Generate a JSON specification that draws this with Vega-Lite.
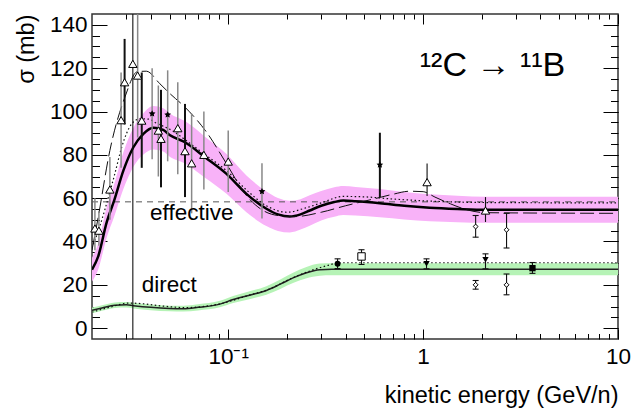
{
  "$schema": "https://vega.github.io/schema/vega-lite/v6.json",
  "width": 526,
  "height": 325,
  "autosize": {"type": "none"},
  "padding": {"left": 92, "top": 14, "right": 15, "bottom": 71},
  "background": "#ffffff",
  "config": {
    "view": {"stroke": "#333", "strokeWidth": 1.5},
    "font": "Liberation Sans",
    "axis": {"grid": false, "domain": false, "labelColor": "#000", "titleColor": "#000", "labelFont": "Liberation Sans", "titleFont": "Liberation Sans", "tickColor": "#000"}
  },
  "datasets": {
    "eff": [
      {"E": 0.020, "v": 27, "lo": 21.5, "hi": 32.5},
      {"E": 0.0215, "v": 33, "lo": 27, "hi": 39},
      {"E": 0.0238, "v": 48.9, "lo": 41.9, "hi": 55.9},
      {"E": 0.026, "v": 59, "lo": 51.5, "hi": 66.5},
      {"E": 0.029, "v": 72.8, "lo": 64.3, "hi": 81.3},
      {"E": 0.0326, "v": 83.5, "lo": 74.5, "hi": 92.5},
      {"E": 0.0367, "v": 89.7, "lo": 80.2, "hi": 99.2},
      {"E": 0.0413, "v": 92.5, "lo": 82.5, "hi": 102.5},
      {"E": 0.0464, "v": 91.5, "lo": 81.5, "hi": 101.5},
      {"E": 0.0503, "v": 89, "lo": 79, "hi": 99},
      {"E": 0.06, "v": 85.8, "lo": 76, "hi": 95.6},
      {"E": 0.076, "v": 78.9, "lo": 69.4, "hi": 88.4},
      {"E": 0.098, "v": 71.2, "lo": 62, "hi": 80.4},
      {"E": 0.124, "v": 62, "lo": 53.5, "hi": 70.5},
      {"E": 0.157, "v": 55.1, "lo": 47.1, "hi": 63.1},
      {"E": 0.18, "v": 52.5, "lo": 44.9, "hi": 60.1},
      {"E": 0.207, "v": 51.5, "lo": 44.2, "hi": 58.8},
      {"E": 0.235, "v": 52.5, "lo": 45.5, "hi": 59.5},
      {"E": 0.262, "v": 54.3, "lo": 47.3, "hi": 61.3},
      {"E": 0.3, "v": 56.5, "lo": 49.7, "hi": 63.3},
      {"E": 0.35, "v": 58.2, "lo": 51.4, "hi": 65},
      {"E": 0.389, "v": 58.9, "lo": 52.2, "hi": 65.6},
      {"E": 0.45, "v": 58.6, "lo": 52, "hi": 65.2},
      {"E": 0.6, "v": 57.7, "lo": 51.2, "hi": 64.2},
      {"E": 0.8, "v": 56.5, "lo": 50.2, "hi": 62.8},
      {"E": 1.08, "v": 55.6, "lo": 49.4, "hi": 61.8},
      {"E": 1.5, "v": 55, "lo": 48.9, "hi": 61.1},
      {"E": 2.11, "v": 54.6, "lo": 48.6, "hi": 60.6},
      {"E": 10, "v": 54.6, "lo": 48.6, "hi": 60.6}
    ],
    "effLD": [
      {"E": 0.020, "v": 36}, {"E": 0.0215, "v": 51}, {"E": 0.0247, "v": 82}, {"E": 0.0295, "v": 106.6},
      {"E": 0.0342, "v": 118.4}, {"E": 0.038, "v": 118.6}, {"E": 0.0446, "v": 112.8}, {"E": 0.0503, "v": 108.2},
      {"E": 0.06, "v": 102}, {"E": 0.0775, "v": 90.4}, {"E": 0.098, "v": 75.9}, {"E": 0.122, "v": 62},
      {"E": 0.151, "v": 54.3}, {"E": 0.18, "v": 52}, {"E": 0.22, "v": 51.5}, {"E": 0.3, "v": 53.5},
      {"E": 0.4, "v": 56.5}, {"E": 0.55, "v": 59.5}, {"E": 0.7, "v": 61.8}, {"E": 0.85, "v": 63.2},
      {"E": 1.0, "v": 63}, {"E": 1.15, "v": 60.5}, {"E": 1.38, "v": 57.4}, {"E": 1.7, "v": 54.5},
      {"E": 2.1, "v": 53.3}, {"E": 10, "v": 53}
    ],
    "effDot": [
      {"E": 0.020, "v": 37}, {"E": 0.0207, "v": 40.5}, {"E": 0.0262, "v": 71.3}, {"E": 0.0284, "v": 83.5},
      {"E": 0.032, "v": 94.3}, {"E": 0.0353, "v": 96.6}, {"E": 0.0389, "v": 96.5}, {"E": 0.0429, "v": 94.6},
      {"E": 0.052, "v": 91}, {"E": 0.06, "v": 87}, {"E": 0.075, "v": 80.5}, {"E": 0.1, "v": 72},
      {"E": 0.125, "v": 63.5}, {"E": 0.157, "v": 56.5}, {"E": 0.2, "v": 53.5}, {"E": 0.25, "v": 55.5},
      {"E": 0.3, "v": 57.8}, {"E": 0.389, "v": 60.8}, {"E": 0.5, "v": 60.6}, {"E": 0.7, "v": 59.6},
      {"E": 1, "v": 58.8}, {"E": 1.5, "v": 58.2}, {"E": 2, "v": 58}, {"E": 10, "v": 57.8}
    ],
    "dir": [
      {"E": 0.02, "v": 8.2, "lo": 6.9, "hi": 9.5},
      {"E": 0.0225, "v": 9.3, "lo": 8, "hi": 10.6},
      {"E": 0.0262, "v": 10.6, "lo": 9.3, "hi": 11.9},
      {"E": 0.03, "v": 10.8, "lo": 9.5, "hi": 12.1},
      {"E": 0.0326, "v": 10.4, "lo": 9.1, "hi": 11.7},
      {"E": 0.04, "v": 9.6, "lo": 8.3, "hi": 10.9},
      {"E": 0.05, "v": 9.1, "lo": 7.8, "hi": 10.4},
      {"E": 0.0588, "v": 9, "lo": 7.7, "hi": 10.3},
      {"E": 0.07, "v": 9.6, "lo": 8.2, "hi": 11},
      {"E": 0.0906, "v": 11.1, "lo": 9.6, "hi": 12.6},
      {"E": 0.106, "v": 13.2, "lo": 11.6, "hi": 14.8},
      {"E": 0.13, "v": 15.3, "lo": 13.5, "hi": 17.1},
      {"E": 0.157, "v": 17.4, "lo": 15.4, "hi": 19.4},
      {"E": 0.185, "v": 20.3, "lo": 18.1, "hi": 22.5},
      {"E": 0.215, "v": 23.2, "lo": 20.8, "hi": 25.6},
      {"E": 0.25, "v": 25.5, "lo": 22.9, "hi": 28.1},
      {"E": 0.295, "v": 27, "lo": 24.2, "hi": 29.8},
      {"E": 0.34, "v": 27.2, "lo": 24.4, "hi": 30},
      {"E": 10, "v": 27.2, "lo": 24.4, "hi": 30}
    ],
    "dirDot": [
      {"E": 0.02, "v": 7.4}, {"E": 0.025, "v": 9.8}, {"E": 0.031, "v": 11.6}, {"E": 0.036, "v": 11.3},
      {"E": 0.045, "v": 10.3}, {"E": 0.06, "v": 9.5}, {"E": 0.0906, "v": 11.2}, {"E": 0.13, "v": 15.4},
      {"E": 0.157, "v": 17.5}, {"E": 0.215, "v": 23.3}, {"E": 0.27, "v": 26.8}, {"E": 0.32, "v": 28.8},
      {"E": 0.36, "v": 30}, {"E": 0.4, "v": 30.2}, {"E": 10, "v": 30.2}
    ],
    "hline": [{"E": 0.02, "v": 58.3}, {"E": 10, "v": 58.3}],
    "pts": [
      {"E": 0.0207, "v": 46, "lo": 36, "hi": 60, "s": "tri", "b": "g", "c": false},
      {"E": 0.0217, "v": 45, "lo": 38, "hi": 54, "s": "tri", "b": "g", "c": false},
      {"E": 0.0247, "v": 64, "lo": 50, "hi": 79, "s": "tri", "b": "g", "c": false},
      {"E": 0.0282, "v": 96, "lo": 74, "hi": 118, "s": "tri", "b": "g", "c": false},
      {"E": 0.0294, "v": 113.5, "lo": 94, "hi": 133.5, "s": "tri", "b": "k", "c": false},
      {"E": 0.0324, "v": 122, "lo": -100, "hi": 300, "s": "tri", "b": "t", "c": false},
      {"E": 0.0343, "v": 116.6, "lo": 88, "hi": 145, "s": "tri", "b": "g", "c": false},
      {"E": 0.036, "v": 95.8, "lo": 74, "hi": 118, "s": "tri", "b": "k", "c": false},
      {"E": 0.0407, "v": 99, "lo": 78, "hi": 120, "s": "star", "b": "g", "c": false},
      {"E": 0.0438, "v": 91.2, "lo": 70, "hi": 112, "s": "tri", "b": "g", "c": false},
      {"E": 0.0452, "v": 87.4, "lo": 65, "hi": 110, "s": "tri", "b": "k", "c": false},
      {"E": 0.0489, "v": 98.5, "lo": 77, "hi": 119, "s": "star", "b": "g", "c": false},
      {"E": 0.0551, "v": 92.3, "lo": 71, "hi": 113.5, "s": "tri", "b": "g", "c": false},
      {"E": 0.06, "v": 81.7, "lo": 60.5, "hi": 103.5, "s": "tri", "b": "k", "c": false},
      {"E": 0.0649, "v": 76.1, "lo": 53, "hi": 99, "s": "tri", "b": "g", "c": false},
      {"E": 0.075, "v": 80, "lo": 64, "hi": 100, "s": "tri", "b": "g", "c": false},
      {"E": 0.1, "v": 76.9, "lo": 62.8, "hi": 91.2, "s": "tri", "b": "g", "c": false},
      {"E": 0.149, "v": 63.1, "lo": 50.6, "hi": 76.1, "s": "star", "b": "g", "c": false},
      {"E": 0.6, "v": 75.4, "lo": 60.5, "hi": 90.2, "s": "star", "b": "k", "c": false},
      {"E": 1.048, "v": 67.4, "lo": 61, "hi": 76, "s": "tri", "b": "t", "c": false},
      {"E": 2.09, "v": 54.3, "lo": 49, "hi": 60.5, "s": "tri", "b": "t", "c": false},
      {"E": 1.86, "v": 46.9, "lo": 42, "hi": 52, "s": "dia", "b": "t", "c": true},
      {"E": 2.68, "v": 45.4, "lo": 37, "hi": 53, "s": "dia", "b": "t", "c": true},
      {"E": 0.364, "v": 29.7, "lo": 27.5, "hi": 32, "s": "circ", "b": "t", "c": true},
      {"E": 0.483, "v": 33.1, "lo": 29.4, "hi": 36.2, "s": "osq", "b": "t", "c": true},
      {"E": 1.041, "v": 29.7, "lo": 27.4, "hi": 32, "s": "dtri", "b": "t", "c": true},
      {"E": 2.09, "v": 31.6, "lo": 27.4, "hi": 34.3, "s": "dtri", "b": "t", "c": true},
      {"E": 3.64, "v": 27.7, "lo": 25.3, "hi": 30.3, "s": "fsq", "b": "t", "c": true},
      {"E": 1.86, "v": 20, "lo": 18, "hi": 22, "s": "dia", "b": "t", "c": true},
      {"E": 2.68, "v": 20, "lo": 15.4, "hi": 25, "s": "dia", "b": "t", "c": true}
    ],
    "lab": [
      {"E": 0.0397, "v": 49.7, "t": "effective"},
      {"E": 0.036, "v": 16.6, "t": "direct"}
    ],
    "ann": [{"E": 2.27, "v": 116.6, "t": "¹²C → ¹¹B"}]
  },
  "encoding": {
    "x": {"field": "E", "type": "quantitative", "scale": {"type": "log", "domain": [0.02, 10], "nice": false}, "axis": null},
    "y": {"field": "v", "type": "quantitative", "scale": {"domain": [-5, 145], "nice": false, "zero": false}, "axis": null}
  },
  "resolve": {"axis": {"x": "independent", "y": "independent"}},
  "layer": [
    {
      "data": {"name": "eff"},
      "mark": {"type": "area", "color": "#f8b2f8", "opacity": 1, "interpolate": "monotone", "clip": true},
      "encoding": {
        "x": {"field": "E", "type": "quantitative", "scale": {"type": "log", "domain": [0.02, 10], "nice": false},
          "axis": {"orient": "bottom", "values": [0.1, 1, 10], "ticks": false, "domain": false, "labelFlush": false, "labelOverlap": false,
            "labelExpr": "datum.value < 0.5 ? '10⁻¹' : (datum.value < 5 ? '1' : '10')",
            "labelFontSize": 22.5, "labelPadding": 6, "title": "kinetic energy (GeV/n)", "titleAnchor": "end",
            "titleFontSize": 23.5, "titleFontWeight": "normal", "titlePadding": 16}},
        "y": {"field": "lo", "type": "quantitative", "scale": {"domain": [-5, 145], "nice": false, "zero": false},
          "axis": {"orient": "left", "values": [0, 20, 40, 60, 80, 100, 120, 140], "ticks": false, "domain": false, "labelFlush": false,
            "labelFontSize": 22.5, "labelPadding": 5, "title": "σ (mb)", "titleAnchor": "end", "titleFontSize": 23.5,
            "titleFontWeight": "normal", "titlePadding": 11}},
        "y2": {"field": "hi"}
      }
    },
    {
      "data": {"name": "dir"},
      "mark": {"type": "area", "color": "#b6f3b6", "opacity": 1, "interpolate": "monotone", "clip": true},
      "encoding": {
        "x": {"field": "E", "type": "quantitative", "scale": {"type": "log", "domain": [0.02, 10], "nice": false},
          "axis": {"orient": "bottom", "values": [0.1, 1, 10], "labels": false, "domain": false, "ticks": true, "tickSize": -10, "tickWidth": 1, "title": null}},
        "y": {"field": "lo", "type": "quantitative", "scale": {"domain": [-5, 145], "nice": false, "zero": false},
          "axis": {"orient": "left", "values": [0, 20, 40, 60, 80, 100, 120, 140], "labels": false, "domain": false, "ticks": true, "tickSize": -15, "tickWidth": 1, "title": null}},
        "y2": {"field": "hi"}
      }
    },
    {
      "data": {"name": "hline"},
      "mark": {"type": "line", "color": "#555", "strokeWidth": 1, "strokeDash": [6, 5], "clip": true},
      "encoding": {
        "x": {"field": "E", "type": "quantitative", "scale": {"type": "log", "domain": [0.02, 10], "nice": false},
          "axis": {"orient": "bottom", "values": [0.03, 0.04, 0.05, 0.06, 0.07, 0.08, 0.09, 0.2, 0.3, 0.4, 0.5, 0.6, 0.7, 0.8, 0.9, 2, 3, 4, 5, 6, 7, 8, 9], "labels": false, "domain": false, "ticks": true, "tickSize": -5.5, "tickWidth": 1, "title": null}},
        "y": {"field": "v", "type": "quantitative", "scale": {"domain": [-5, 145], "nice": false, "zero": false},
          "axis": {"orient": "left", "values": [0, 5, 10, 15, 20, 25, 30, 35, 40, 45, 50, 55, 60, 65, 70, 75, 80, 85, 90, 95, 100, 105, 110, 115, 120, 125, 130, 135, 140], "labels": false, "domain": false, "ticks": true, "tickSize": -7.5, "tickWidth": 1, "title": null}}
      }
    },
    {
      "data": {"name": "eff"},
      "mark": {"type": "line", "color": "#000", "strokeWidth": 2.5, "interpolate": "monotone", "clip": true},
      "encoding": {
        "x": {"field": "E", "type": "quantitative", "scale": {"type": "log", "domain": [0.02, 10], "nice": false},
          "axis": {"orient": "top", "values": [0.1, 1, 10], "labels": false, "domain": false, "ticks": true, "tickSize": -10, "tickWidth": 1, "title": null}},
        "y": {"field": "v", "type": "quantitative", "scale": {"domain": [-5, 145], "nice": false, "zero": false},
          "axis": {"orient": "right", "values": [0, 20, 40, 60, 80, 100, 120, 140], "labels": false, "domain": false, "ticks": true, "tickSize": -15, "tickWidth": 1, "title": null}}
      }
    },
    {
      "data": {"name": "dir"},
      "mark": {"type": "line", "color": "#222", "strokeWidth": 1.5, "interpolate": "monotone", "clip": true},
      "encoding": {
        "x": {"field": "E", "type": "quantitative", "scale": {"type": "log", "domain": [0.02, 10], "nice": false},
          "axis": {"orient": "top", "values": [0.03, 0.04, 0.05, 0.06, 0.07, 0.08, 0.09, 0.2, 0.3, 0.4, 0.5, 0.6, 0.7, 0.8, 0.9, 2, 3, 4, 5, 6, 7, 8, 9], "labels": false, "domain": false, "ticks": true, "tickSize": -5, "tickWidth": 1, "title": null}},
        "y": {"field": "v", "type": "quantitative", "scale": {"domain": [-5, 145], "nice": false, "zero": false},
          "axis": {"orient": "right", "values": [0, 5, 10, 15, 20, 25, 30, 35, 40, 45, 50, 55, 60, 65, 70, 75, 80, 85, 90, 95, 100, 105, 110, 115, 120, 125, 130, 135, 140], "labels": false, "domain": false, "ticks": true, "tickSize": -7.5, "tickWidth": 1, "title": null}}
      }
    },
    {
      "data": {"name": "effLD"},
      "mark": {"type": "line", "color": "#111", "strokeWidth": 1, "strokeDash": [14, 5], "interpolate": "monotone", "clip": true}
    },
    {
      "data": {"name": "effDot"},
      "mark": {"type": "line", "color": "#111", "strokeWidth": 1.2, "strokeDash": [1.5, 2.5], "interpolate": "monotone", "clip": true}
    },
    {
      "data": {"name": "dirDot"},
      "mark": {"type": "line", "color": "#111", "strokeWidth": 1.2, "strokeDash": [1.5, 2.5], "interpolate": "monotone", "clip": true}
    },
    {
      "data": {"name": "pts"},
      "transform": [{"filter": "datum.b == 'g'"}],
      "mark": {"type": "rule", "color": "#888", "strokeWidth": 1.5, "clip": true},
      "encoding": {
        "y": {"field": "lo", "type": "quantitative", "scale": {"domain": [-5, 145], "nice": false, "zero": false}, "axis": null},
        "y2": {"field": "hi"}
      }
    },
    {
      "data": {"name": "pts"},
      "transform": [{"filter": "datum.b == 'k'"}],
      "mark": {"type": "rule", "color": "#111", "strokeWidth": 2, "clip": true},
      "encoding": {
        "y": {"field": "lo", "type": "quantitative", "scale": {"domain": [-5, 145], "nice": false, "zero": false}, "axis": null},
        "y2": {"field": "hi"}
      }
    },
    {
      "data": {"name": "pts"},
      "transform": [{"filter": "datum.b == 't'"}],
      "mark": {"type": "rule", "color": "#111", "strokeWidth": 1.1, "clip": true},
      "encoding": {
        "y": {"field": "lo", "type": "quantitative", "scale": {"domain": [-5, 145], "nice": false, "zero": false}, "axis": null},
        "y2": {"field": "hi"}
      }
    },
    {
      "data": {"name": "pts"},
      "transform": [{"filter": "datum.c"}],
      "mark": {"type": "tick", "orient": "horizontal", "size": 6, "thickness": 1.1, "color": "#111", "opacity": 1},
      "encoding": {
        "y": {"field": "lo", "type": "quantitative", "scale": {"domain": [-5, 145], "nice": false, "zero": false}, "axis": null}
      }
    },
    {
      "data": {"name": "pts"},
      "transform": [{"filter": "datum.c"}],
      "mark": {"type": "tick", "orient": "horizontal", "size": 6, "thickness": 1.1, "color": "#111", "opacity": 1},
      "encoding": {
        "y": {"field": "hi", "type": "quantitative", "scale": {"domain": [-5, 145], "nice": false, "zero": false}, "axis": null}
      }
    },
    {
      "data": {"name": "pts"},
      "transform": [{"filter": "datum.s == 'tri'"}],
      "mark": {"type": "point", "shape": "triangle-up", "size": 70, "filled": true, "fill": "#fff", "stroke": "#000", "strokeWidth": 1, "opacity": 1}
    },
    {
      "data": {"name": "pts"},
      "transform": [{"filter": "datum.s == 'star'"}],
      "mark": {"type": "point", "shape": "M0,-1L0.29,-0.4L0.95,-0.31L0.47,0.15L0.59,0.81L0,0.5L-0.59,0.81L-0.47,0.15L-0.95,-0.31L-0.29,-0.4Z", "size": 50, "filled": true, "color": "#000", "opacity": 1}
    },
    {
      "data": {"name": "pts"},
      "transform": [{"filter": "datum.s == 'dia'"}],
      "mark": {"type": "point", "shape": "diamond", "size": 24, "filled": true, "fill": "#fff", "stroke": "#000", "strokeWidth": 1, "opacity": 1}
    },
    {
      "data": {"name": "pts"},
      "transform": [{"filter": "datum.s == 'circ'"}],
      "mark": {"type": "point", "shape": "circle", "size": 35, "filled": true, "color": "#000", "opacity": 1}
    },
    {
      "data": {"name": "pts"},
      "transform": [{"filter": "datum.s == 'osq'"}],
      "mark": {"type": "point", "shape": "square", "size": 55, "filled": true, "fill": "#fff", "stroke": "#000", "strokeWidth": 1, "opacity": 1}
    },
    {
      "data": {"name": "pts"},
      "transform": [{"filter": "datum.s == 'dtri'"}],
      "mark": {"type": "point", "shape": "triangle-down", "size": 40, "filled": true, "color": "#000", "opacity": 1}
    },
    {
      "data": {"name": "pts"},
      "transform": [{"filter": "datum.s == 'fsq'"}],
      "mark": {"type": "point", "shape": "square", "size": 40, "filled": true, "color": "#000", "opacity": 1}
    },
    {
      "data": {"name": "lab"},
      "mark": {"type": "text", "align": "left", "baseline": "alphabetic", "fontSize": 22.5, "font": "Liberation Sans", "color": "#000"},
      "encoding": {"text": {"field": "t"}}
    },
    {
      "data": {"name": "ann"},
      "mark": {"type": "text", "align": "center", "baseline": "alphabetic", "fontSize": 34, "font": "Liberation Sans", "color": "#000"},
      "encoding": {"text": {"field": "t"}}
    }
  ]
}
